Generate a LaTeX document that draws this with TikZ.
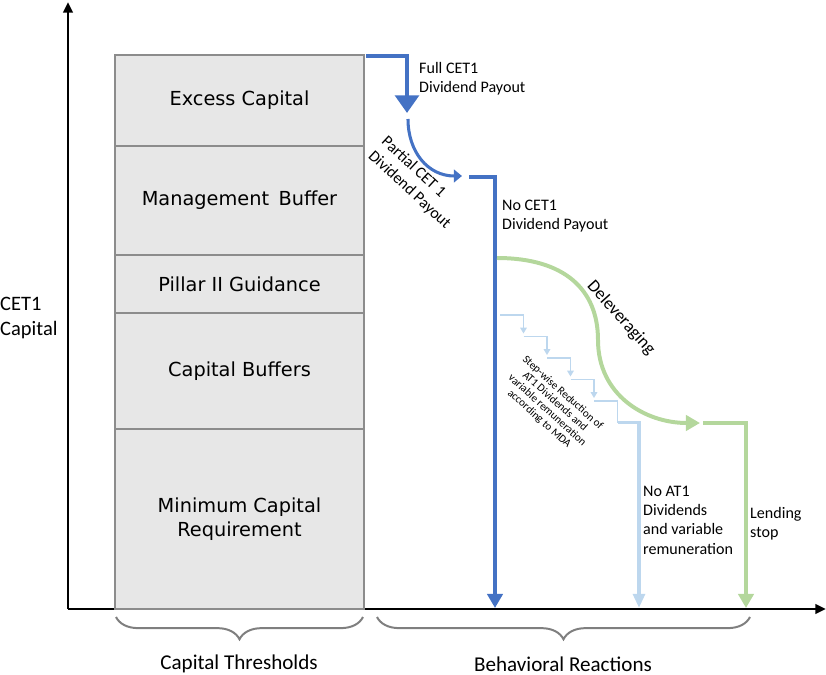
\documentclass[tikz,border=0pt]{standalone}
\usepackage{fontspec}
\setmainfont{Carlito}
\newfontfamily\tierfont{DejaVu Sans}
\usepackage{tikz}
\usetikzlibrary{arrows.meta,positioning,decorations.pathreplacing}

\definecolor{cetblue}{HTML}{4472C4}
\definecolor{atblue}{HTML}{BDD7EE}
\definecolor{lendgreen}{HTML}{B4D79C}
\definecolor{tierfill}{HTML}{E7E7E7}
\definecolor{tieredge}{HTML}{8C8C8C}
\definecolor{bracegray}{HTML}{7F7F7F}

\begin{document}
\begin{tikzpicture}[x=0.03cm,y=-0.03cm,node distance=0pt]
		\tikzstyle{tier}=[rectangle, draw=tieredge, line width=1.6pt, fill=tierfill, minimum width=7.47cm, outer sep=0pt, inner sep=0pt, align=center, font=\tierfont\fontsize{16.5}{21}\selectfont]
		\tikzstyle{axis}=[line width=2.5pt, -{Triangle[length=9pt,width=8pt]}]
		\tikzstyle{note}=[align=left, inner sep=0pt, font=\fontsize{13.7}{16.5}\selectfont]
		\tikzstyle{slanted}=[align=center, inner sep=0pt]
		\tikzstyle{cet flow}=[draw=cetblue, line width=3.6pt]
		\tikzstyle{at1 flow}=[draw=atblue, line width=3.4pt]
		\tikzstyle{mda step}=[draw=atblue, line width=1.6pt]
		\tikzstyle{lend flow}=[draw=lendgreen, line width=3.4pt]
		\tikzstyle{curly}=[draw=bracegray, line width=1.7pt, decorate, decoration={brace,mirror,amplitude=19pt,aspect=0.5}]

		\useasboundingbox (0,0) rectangle (826,675);

		\coordinate (origin) at (68,609);
		\coordinate (ytop) at (68,2);
		\coordinate (xend) at (826,609);
		\draw [axis] (origin) -- (ytop);
		\draw [axis] (origin) -- (xend);
		\node [note, anchor=west, font=\fontsize{17.5}{21.5}\selectfont] (cetcap) at (0,318) {CET1\\Capital};

		\node [tier, minimum height=2.73cm, anchor=north] (excess) at (239.5,55) {Excess Capital};
		\node [tier, minimum height=3.27cm] (mgmt) [below=of excess] {Management\, Buffer};
		\node [tier, minimum height=1.74cm] (pillar) [below=of mgmt] {Pillar II Guidance};
		\node [tier, minimum height=3.48cm] (buffers) [below=of pillar] {Capital Buffers};
		\node [tier, minimum height=5.40cm] (minreq) [below=of buffers] {Minimum Capital\\Requirement};

		\coordinate (ec) at (366,56);
		\coordinate (fulltip) at (407,113);
		\coordinate (partstart) at (408,119);
		\coordinate (parttip) at (462,176);
		\coordinate (nostart) at (469,177);
		\coordinate (notip) at (495,608);
		\draw [cet flow, -{Triangle[length=15pt,width=20pt]}] (ec) -| (fulltip);
		\draw [cet flow, line width=2.6pt, -{Triangle[length=7pt,width=11pt]}] (partstart) .. controls (408,152) and (428,176) .. (parttip);
		\draw [cet flow, -{Triangle[length=12pt,width=13pt]}] (nostart) -| (notip);
		\node [note, anchor=west] (full) at (419,79) {Full CET1\\Dividend Payout};
		\node [slanted, align=left, rotate=-43, font=\fontsize{13.7}{16.5}\selectfont] (partial) at (416,183) {Partial CET 1\\Dividend Payout};
		\node [note, anchor=west] (nocet) at (502,216) {No CET1\\Dividend Payout};

		\coordinate (delstart) at (497,258);
		\coordinate (delmid) at (598,340);
		\coordinate (deltip) at (700,423);
		\coordinate (lendstart) at (703,423);
		\coordinate (lendtip) at (746,608);
		\draw [lend flow, -{Triangle[length=12pt,width=13pt]}] (delstart) .. controls (565,258) and (598,290) .. (delmid) .. controls (598,395) and (645,423) .. (deltip);
		\draw [lend flow, -{Triangle[length=12pt,width=13pt]}] (lendstart) -| (lendtip);
		\node [slanted, rotate=-48, font=\fontsize{15}{18}\selectfont] (delev) at (621,318) {Deleveraging};
		\node [note, anchor=west] (lending) at (750,524) {Lending\\stop};

		\foreach \i in {0,...,5}
			\coordinate (st\i) at ({500+23.5*\i},{315+21.5*\i});
		\foreach \i/\j in {0/1,1/2,2/3,3/4}
			\draw [mda step, -{Triangle[length=5pt,width=5.5pt]}] (st\i) -| ([yshift=2.5pt]st\j);
		\draw [mda step] (st4) -| (st5);
		\coordinate (at1tip) at (639,608);
		\draw [at1 flow, -{Triangle[length=12pt,width=10pt]}] (st5) -| (at1tip);
		\node [slanted, rotate=-42, font=\fontsize{9.5}{10}\selectfont] (mda) at (551,406) {Step-wise Reduction of\\AT1 Dividends and\\variable remuneration\\according to MDA};
		\node [note, anchor=west] (noat) at (643,520) {No AT1\\Dividends\\and variable\\remuneration};

		\coordinate (thrleft) at (116,617);
		\coordinate (thrright) at (363,617);
		\coordinate (reacleft) at (377,617);
		\coordinate (reacright) at (750,617);
		\draw [curly] (thrleft) -- (thrright);
		\draw [curly] (reacleft) -- (reacright);
		\node [font=\fontsize{18}{22}\selectfont, inner sep=0pt] (thresholds) at (239,664) {Capital Thresholds};
		\node [font=\fontsize{18}{22}\selectfont, inner sep=0pt] (reactions) at (563,664) {Behavioral Reactions};
	\end{tikzpicture}
\end{document}
